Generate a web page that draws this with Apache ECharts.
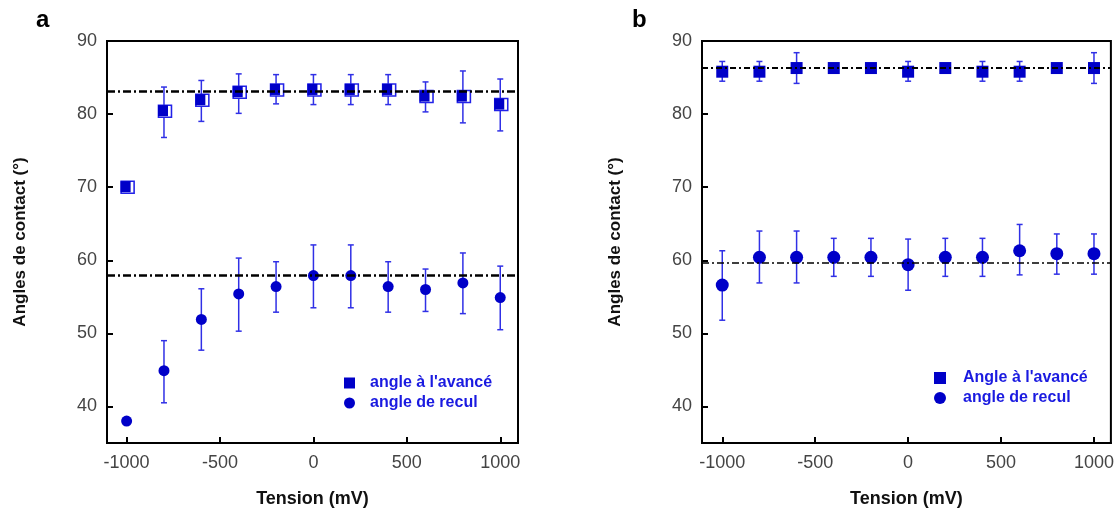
<!DOCTYPE html>
<html>
<head>
<meta charset="utf-8">
<script src="https://cdn.jsdelivr.net/npm/echarts@6/dist/echarts.min.js"></script>
<style>html,body{margin:0;padding:0;background:#fff}#c{width:1117px;height:513px}</style>
</head>
<body>
<div id="c"></div>
<script>
// ---- data ----
const tension = [-1000, -800, -600, -400, -200, 0, 200, 400, 600, 800, 1000];
const xTicks = [-1000, -500, 0, 500, 1000];
const yTicks = [40, 50, 60, 70, 80, 90];

// panel a
const advA = [70.0, 80.4, 81.9, 83.0, 83.3, 83.3, 83.3, 83.3, 82.4, 82.4, 81.3];
const advALow = [null, 76.8, 79.0, 80.1, 81.4, 81.3, 81.3, 81.3, 80.3, 78.8, 77.7];
const advAHigh = [null, 83.7, 84.6, 85.5, 85.4, 85.4, 85.4, 85.4, 84.4, 85.9, 84.8];
const recA = [38.0, 44.9, 51.9, 55.4, 56.4, 57.9, 57.9, 56.4, 56.0, 56.9, 54.9];
const recALow = [null, 40.5, 47.7, 50.3, 52.9, 53.5, 53.5, 52.9, 53.0, 52.7, 50.5];
const recAHigh = [null, 49.0, 56.1, 60.3, 59.8, 62.1, 62.1, 59.8, 58.8, 61.0, 59.2];
const meanA = [83.1, 58.0];

// panel b
const advB = [85.8, 85.8, 86.3, 86.3, 86.3, 85.8, 86.3, 85.8, 85.8, 86.3, 86.3];
const advBLow = [84.5, 84.5, 84.2, null, null, 84.5, null, 84.5, 84.5, null, 84.2];
const advBHigh = [87.2, 87.2, 88.4, null, null, 87.2, null, 87.2, 87.2, null, 88.4];
const recB = [56.6, 60.4, 60.4, 60.4, 60.4, 59.4, 60.4, 60.4, 61.3, 60.9, 60.9];
const recBLow = [51.8, 56.9, 56.9, 57.8, 57.8, 55.9, 57.8, 57.8, 58.0, 58.1, 58.1];
const recBHigh = [61.3, 64.0, 64.0, 63.0, 63.0, 62.9, 63.0, 63.0, 64.9, 63.6, 63.6];
const meanB = [86.4, 59.6];

const nameAdvA = "angle à l'avancé";
const nameAdvB = "Angle à l'avancé";
const nameRec = "angle de recul";

// ---- helpers ----
const BLUE = '#0000c8';
const EBLUE = '#3030e6';
const FONT = '"Liberation Sans", Arial, sans-serif';

function pts(vals) { return tension.map((x, i) => [x, vals[i]]); }
function errPts(lo, hi) {
  const out = [];
  tension.forEach((x, i) => { if (lo[i] != null && hi[i] != null) out.push([x, lo[i], hi[i]]); });
  return out;
}
function errRender(params, api) {
  const x = api.value(0), lo = api.value(1), hi = api.value(2);
  const a = api.coord([x, hi]), b = api.coord([x, lo]);
  const w = 3;
  const st = { stroke: EBLUE, lineWidth: 1.5 };
  return { type: 'group', children: [
    { type: 'line', shape: { x1: a[0], y1: a[1], x2: b[0], y2: b[1] }, style: st },
    { type: 'line', shape: { x1: a[0] - w, y1: a[1], x2: a[0] + w, y2: a[1] }, style: st },
    { type: 'line', shape: { x1: b[0] - w, y1: b[1], x2: b[0] + w, y2: b[1] }, style: st }
  ]};
}
function errSeries(idx, lo, hi) {
  return { type: 'custom', xAxisIndex: idx, yAxisIndex: idx, renderItem: errRender,
    data: errPts(lo, hi), encode: { x: 0, y: [1, 2] }, z: 2, silent: true };
}
function xAxis(idx, min, max) {
  return {
    type: 'value', gridIndex: idx, min: min, max: max,
    name: 'Tension (mV)', nameLocation: 'middle', nameGap: 47,
    nameTextStyle: { fontFamily: FONT, fontSize: 18, fontWeight: 'bold', color: '#111' },
    axisLine: { show: true, onZero: false, lineStyle: { color: '#000', width: 2 } },
    axisTick: { show: true, inside: true, length: 6, customValues: xTicks, lineStyle: { color: '#000', width: 2 } },
    axisLabel: { customValues: xTicks, margin: 11, fontFamily: FONT, fontSize: 18, color: '#444',
      formatter: v => String(v) },
    splitLine: { show: false }
  };
}
function yAxis(idx) {
  return {
    type: 'value', gridIndex: idx, min: 35, max: 90,
    name: 'Angles de contact (°)', nameLocation: 'middle', nameGap: 78,
    nameTextStyle: { fontFamily: FONT, fontSize: 17, fontWeight: 'bold', color: '#111' },
    axisLine: { show: true, onZero: false, lineStyle: { color: '#000', width: 2 } },
    axisTick: { show: true, inside: true, length: 6, customValues: yTicks, lineStyle: { color: '#000', width: 2 } },
    axisLabel: { customValues: yTicks, margin: 10, fontFamily: FONT, fontSize: 18, color: '#444',
      formatter: v => String(v) },
    splitLine: { show: false }
  };
}
function meanLine(vals, width, dash) {
  return { symbol: 'none', silent: true, label: { show: false },
    lineStyle: { color: '#000', width: width, type: dash },
    data: vals.map(v => ({ yAxis: v })) };
}

const option = {
  animation: false,
  textStyle: { fontFamily: FONT },
  grid: [
    { left: 107, top: 41, width: 411, height: 403, show: true, borderColor: '#000', borderWidth: 2, backgroundColor: 'transparent' },
    { left: 702, top: 41, width: 411, height: 403, show: true, borderColor: '#000', borderWidth: 2, backgroundColor: 'transparent' }
  ],
  xAxis: [xAxis(0, -1105, 1095), xAxis(1, -1109, 1091)],
  yAxis: [yAxis(0), yAxis(1)],
  legend: [
    { orient: 'vertical', left: 339, top: 370, itemGap: 4, itemWidth: 11, itemHeight: 11,
      textStyle: { fontFamily: FONT, fontSize: 16, fontWeight: 'bold', color: '#1a1ae0', padding: [0, 0, 0, 10] },
      data: [{ name: nameAdvA, icon: 'rect' }, { name: nameRec, icon: 'circle' }] },
    { orient: 'vertical', left: 929, top: 365, itemGap: 4, itemWidth: 12, itemHeight: 12,
      textStyle: { fontFamily: FONT, fontSize: 16, fontWeight: 'bold', color: '#1a1ae0', padding: [0, 0, 0, 12] },
      data: [{ name: nameAdvB, icon: 'rect' }, { name: nameRec, icon: 'circle' }] }
  ],
  graphic: [
    { type: 'text', left: 36, top: 8, style: { text: 'a', fontFamily: FONT, fontSize: 24, fontWeight: 'bold', fill: '#000' } },
    { type: 'text', left: 632, top: 8, style: { text: 'b', fontFamily: FONT, fontSize: 24, fontWeight: 'bold', fill: '#000' } }
  ],
  series: [
    // panel a
    errSeries(0, advALow, advAHigh),
    errSeries(0, recALow, recAHigh),
    { type: 'scatter', name: nameAdvA + ' ', xAxisIndex: 0, yAxisIndex: 0, data: pts(advA), symbol: 'rect',
      symbolSize: [13, 12], symbolOffset: [1, 0], itemStyle: { color: '#fff', borderColor: '#2222e8', borderWidth: 1.5, opacity: 1 }, z: 3, silent: true,
      markLine: meanLine(meanA, 2.5, [8, 3, 2, 3]) },
    { type: 'scatter', name: nameAdvA, xAxisIndex: 0, yAxisIndex: 0, data: pts(advA), symbol: 'rect',
      symbolSize: [10, 11], symbolOffset: [-1, -0.5], itemStyle: { color: BLUE, opacity: 1 }, z: 4, silent: true },
    { type: 'scatter', name: nameRec, xAxisIndex: 0, yAxisIndex: 0, data: pts(recA), symbol: 'circle',
      symbolSize: 11, itemStyle: { color: BLUE, opacity: 1 }, z: 4, silent: true },
    // panel b
    errSeries(1, advBLow, advBHigh),
    errSeries(1, recBLow, recBHigh),
    { type: 'scatter', name: nameAdvB, xAxisIndex: 1, yAxisIndex: 1, data: pts(advB), symbol: 'rect',
      symbolSize: 12, itemStyle: { color: BLUE, opacity: 1 }, z: 4, silent: true,
      markLine: meanLine([meanB[0]], 2, [6, 3, 2, 3]) },
    { type: 'scatter', name: nameRec, xAxisIndex: 1, yAxisIndex: 1, data: pts(recB), symbol: 'circle',
      symbolSize: 13, itemStyle: { color: BLUE, opacity: 1 }, z: 4, silent: true,
      markLine: meanLine([meanB[1]], 1.5, [7, 3, 2, 3]) }
  ]
};
const chart = echarts.init(document.getElementById('c'), null, { renderer: 'canvas' });
chart.setOption(option);
</script>
</body>
</html>
